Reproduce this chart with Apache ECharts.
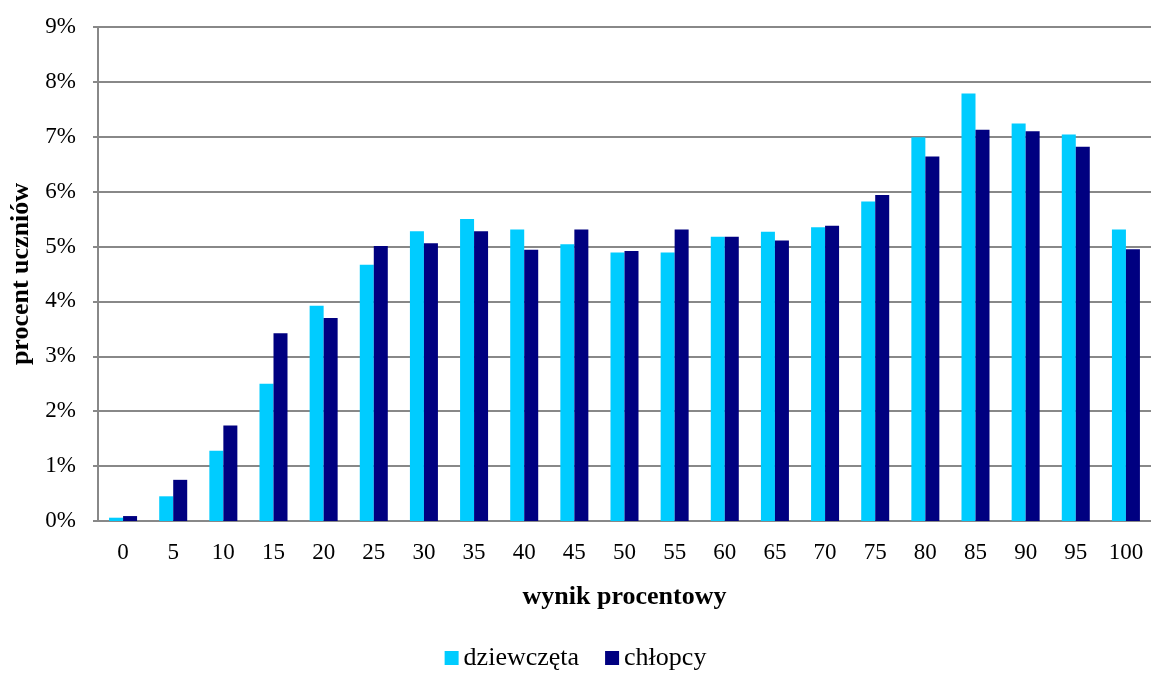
<!DOCTYPE html>
<html><head><meta charset="utf-8">
<script src="https://cdn.jsdelivr.net/npm/echarts@6/dist/echarts.min.js"></script>
<style>html,body{margin:0;padding:0;background:#fff}#c{width:1151px;height:673px}</style>
</head><body><div id="c"></div>
<script>
const categories = ['0','5','10','15','20','25','30','35','40','45','50','55','60','65','70','75','80','85','90','95','100'];
const girls = [0.06,0.45,1.28,2.50,3.92,4.67,5.28,5.50,5.31,5.04,4.89,4.89,5.18,5.27,5.35,5.82,6.99,7.79,7.24,7.04,5.31];
const boys  = [0.09,0.75,1.74,3.42,3.70,5.01,5.06,5.28,4.94,5.31,4.92,5.31,5.18,5.11,5.38,5.94,6.64,7.13,7.10,6.82,4.95];
const seriesNames = ['dziewczęta','chłopcy'];
const font = '"Liberation Serif","Times New Roman",serif';
const chart = echarts.init(document.getElementById('c'));
chart.setOption({
  animation:false,
  textStyle:{fontFamily:font},
  grid:{left:98,right:0,top:27,bottom:152,containLabel:false,outerBoundsMode:'none'},
  legend:{top:640,left:'center',itemWidth:14,itemHeight:14,itemGap:26,itemTextGap:4,icon:'rect',
    textStyle:{fontFamily:font,fontSize:26,color:'#000'},data:seriesNames},
  xAxis:{type:'category',data:categories,
    name:'wynik procentowy',nameLocation:'middle',nameGap:63,
    nameTextStyle:{fontFamily:font,fontSize:26,fontWeight:'bold',color:'#000'},
    axisLine:{lineStyle:{color:'#888',width:2}},axisTick:{show:false},
    axisLabel:{fontFamily:font,fontSize:23,color:'#000',margin:20}},
  yAxis:{type:'value',min:0,max:9,interval:1,
    name:'procent uczniów',nameLocation:'middle',nameGap:58,nameRotate:90,
    nameTextStyle:{fontFamily:font,fontSize:26,fontWeight:'bold',color:'#000'},
    axisLine:{show:true,lineStyle:{color:'#888',width:2}},
    axisTick:{show:true,length:5,lineStyle:{color:'#888',width:2}},
    axisLabel:{fontFamily:font,fontSize:23,color:'#000',margin:22,formatter:v=>v+'%'},
    splitLine:{lineStyle:{color:'#888',width:2}}},
  series:[
    {name:seriesNames[0],type:'bar',data:girls,barWidth:14,barGap:'0%',itemStyle:{color:'#00CCFF'}},
    {name:seriesNames[1],type:'bar',data:boys,barWidth:14,barGap:'0%',itemStyle:{color:'#000080'}}
  ]
});
</script></body></html>
